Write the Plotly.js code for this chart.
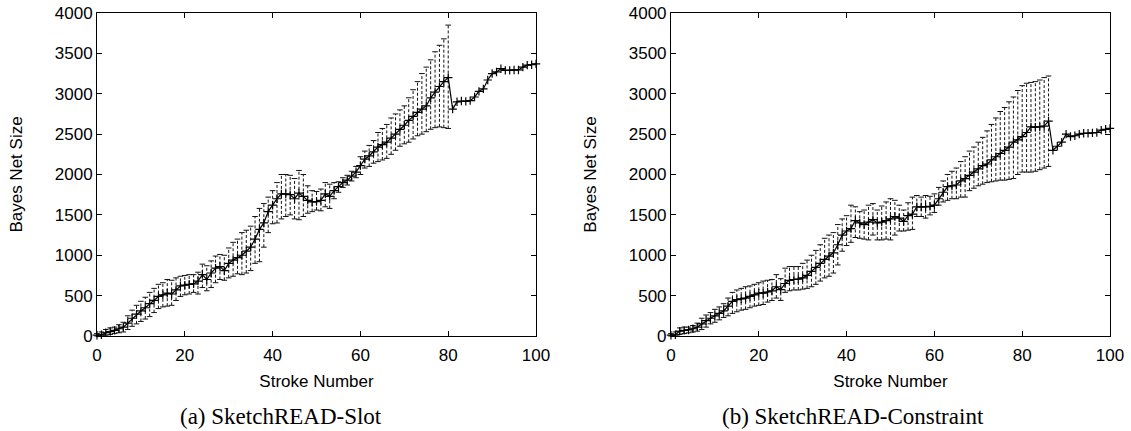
<!DOCTYPE html>
<html>
<head>
<meta charset="utf-8">
<script src="https://cdn.plot.ly/plotly-3.0.1.min.js"></script>
<style>html,body{margin:0;padding:0;background:#fff;}#chart{width:1131px;height:431px;}</style>
</head>
<body>
<div id="chart"></div>
<script>
// Stroke numbers 0..100
const strokes = Array.from({length: 101}, (_, i) => i);

// (a) SketchREAD-Slot
const slotMean = [10,15,40,55,70,90,110,160,220,270,
  310,350,400,440,490,510,530,520,570,620,
  630,640,645,680,760,700,780,840,860,810,
  900,940,970,1000,1050,1100,1200,1320,1400,1540,
  1620,1700,1760,1760,1750,1700,1770,1730,1680,1660,
  1665,1680,1760,1730,1800,1850,1900,1930,1980,2030,
  2110,2190,2230,2280,2340,2370,2400,2450,2500,2560,
  2610,2670,2720,2770,2810,2850,2950,3020,3090,3150,
  3200,2810,2900,2910,2905,2915,2960,3030,3060,3170,
  3250,3270,3310,3290,3290,3295,3295,3330,3355,3360,3370];
const slotLow = [0,0,10,20,30,40,50,80,120,150,
  180,210,240,290,340,360,370,380,440,490,
  510,520,540,520,600,560,600,660,700,690,
  720,740,770,760,780,810,900,920,1100,1280,
  1390,1400,1450,1480,1500,1450,1440,1480,1520,1540,
  1560,1550,1600,1580,1700,1780,1840,1870,1920,1960,
  2000,2080,2100,2140,2160,2180,2200,2250,2300,2350,
  2380,2400,2440,2480,2500,2530,2560,2580,2590,2580,2570];
const slotHigh = [30,50,80,100,110,140,170,250,320,380,
  430,480,540,590,640,660,700,690,720,740,
  750,760,760,790,890,870,930,990,1010,1000,
  1090,1160,1200,1280,1310,1360,1480,1580,1640,1720,
  1800,1900,2000,2000,1990,1950,2050,2000,1860,1800,
  1790,1820,1900,1880,1900,1910,1960,1990,2040,2100,
  2220,2290,2360,2420,2520,2570,2620,2700,2750,2800,
  2850,2950,3050,3150,3250,3330,3420,3520,3600,3680,3850];

// (b) SketchREAD-Constraint
const consMean = [10,15,60,70,75,90,110,150,190,220,
  250,280,310,370,430,450,460,470,490,510,
  530,530,545,560,610,575,650,690,700,705,
  720,750,800,850,900,950,990,1030,1130,1250,
  1300,1330,1430,1400,1380,1410,1440,1400,1410,1430,
  1450,1480,1460,1420,1490,1510,1600,1600,1600,1605,
  1620,1700,1780,1850,1860,1870,1920,1950,1990,2030,
  2070,2110,2130,2180,2220,2260,2300,2340,2400,2430,
  2470,2520,2590,2585,2590,2600,2660,2300,2350,2400,
  2500,2470,2480,2500,2510,2510,2515,2520,2550,2560,2570];
const consLow = [0,0,20,30,40,50,60,80,110,150,
  170,200,230,250,280,300,320,330,350,370,
  380,390,420,440,470,440,540,560,570,570,
  580,590,610,640,680,720,740,780,880,1050,
  1120,1160,1220,1210,1200,1190,1250,1190,1190,1200,
  1190,1250,1300,1300,1310,1320,1480,1480,1460,1500,
  1530,1620,1660,1680,1700,1700,1720,1720,1800,1830,
  1860,1880,1900,1910,1920,1930,1930,1940,1950,2000,
  2030,2030,2030,2040,2060,2080,2100];
const consHigh = [30,50,100,110,110,130,160,220,260,290,
  330,360,400,470,540,570,590,610,620,640,
  660,680,690,700,760,710,840,860,860,860,
  900,940,1000,1060,1130,1210,1250,1280,1380,1450,
  1490,1620,1600,1540,1560,1620,1640,1560,1610,1660,
  1700,1680,1620,1560,1650,1720,1740,1720,1740,1730,
  1760,1840,1920,2000,2040,2080,2160,2220,2290,2340,
  2400,2460,2540,2620,2700,2780,2830,2900,2960,3040,
  3100,3130,3140,3150,3170,3200,3220];

const xTicks = [0, 20, 40, 60, 80, 100];
const yTicks = [0, 500, 1000, 1500, 2000, 2500, 3000, 3500, 4000];

function errTrace(low, high, xa, ya) {
  const xs = [], ys = [];
  for (let i = 0; i < low.length; i++) {
    xs.push(strokes[i], strokes[i], null);
    ys.push(low[i], high[i], null);
  }
  return {
    x: xs, y: ys, xaxis: xa, yaxis: ya, type: 'scatter', mode: 'lines+markers',
    line: {color: '#111', width: 1, dash: '3px,2px'},
    marker: {symbol: 'line-ew-open', size: 4, color: '#111', line: {width: 1, color: '#111'}},
    hoverinfo: 'skip', showlegend: false, cliponaxis: false
  };
}
function meanTrace(mean, xa, ya) {
  return {
    x: strokes, y: mean, xaxis: xa, yaxis: ya, type: 'scatter', mode: 'lines+markers',
    line: {color: '#000', width: 1.2},
    marker: {symbol: 'cross-thin-open', size: 6, color: '#000', line: {width: 1.2, color: '#000'}},
    showlegend: false, cliponaxis: false
  };
}

const data = [
  errTrace(slotLow, slotHigh, 'x', 'y'),
  meanTrace(slotMean, 'x', 'y'),
  errTrace(consLow, consHigh, 'x2', 'y2'),
  meanTrace(consMean, 'x2', 'y2')
];

const font = {family: 'Liberation Sans, Arial, sans-serif', size: 17, color: '#000'};
function xAxis(domain, anchor) {
  return {
    domain: domain, anchor: anchor, range: [0, 100], tickvals: xTicks,
    ticks: 'inside', ticklen: 5, tickcolor: '#000', showline: true, linecolor: '#000', linewidth: 1,
    mirror: 'ticks', showgrid: false, zeroline: false, tickfont: font, ticklabelstandoff: 4,
    title: {text: 'Stroke Number', font: font, standoff: 10}
  };
}
function yAxis(anchor) {
  return {
    anchor: anchor, domain: [0, 1], range: [0, 4000], tickvals: yTicks,
    ticks: 'inside', ticklen: 5, tickcolor: '#000', showline: true, linecolor: '#000', linewidth: 1,
    mirror: 'ticks', showgrid: false, zeroline: false, tickfont: font,
    title: {text: 'Bayes Net Size', font: font, standoff: 27}
  };
}

const layout = {
  width: 1131, height: 431,
  margin: {l: 97, r: 21, t: 13, b: 95},
  paper_bgcolor: '#fff', plot_bgcolor: '#fff',
  xaxis: xAxis([0, 0.4334], 'y'),
  yaxis: yAxis('x'),
  xaxis2: xAxis([0.5666, 1], 'y2'),
  yaxis2: yAxis('x2'),
  showlegend: false,
  annotations: [
    {text: '(a) SketchREAD-Slot', xref: 'paper', yref: 'paper', x: (281 - 97) / 1013, y: -0.2477,
     xanchor: 'center', yanchor: 'middle', showarrow: false,
     font: {family: 'Liberation Serif, Times New Roman, serif', size: 23, color: '#000'}},
    {text: '(b) SketchREAD-Constraint', xref: 'paper', yref: 'paper', x: (853 - 97) / 1013, y: -0.2477,
     xanchor: 'center', yanchor: 'middle', showarrow: false,
     font: {family: 'Liberation Serif, Times New Roman, serif', size: 23, color: '#000'}}
  ]
};

Plotly.newPlot('chart', data, layout, {staticPlot: true, displayModeBar: false});
</script>
</body>
</html>
